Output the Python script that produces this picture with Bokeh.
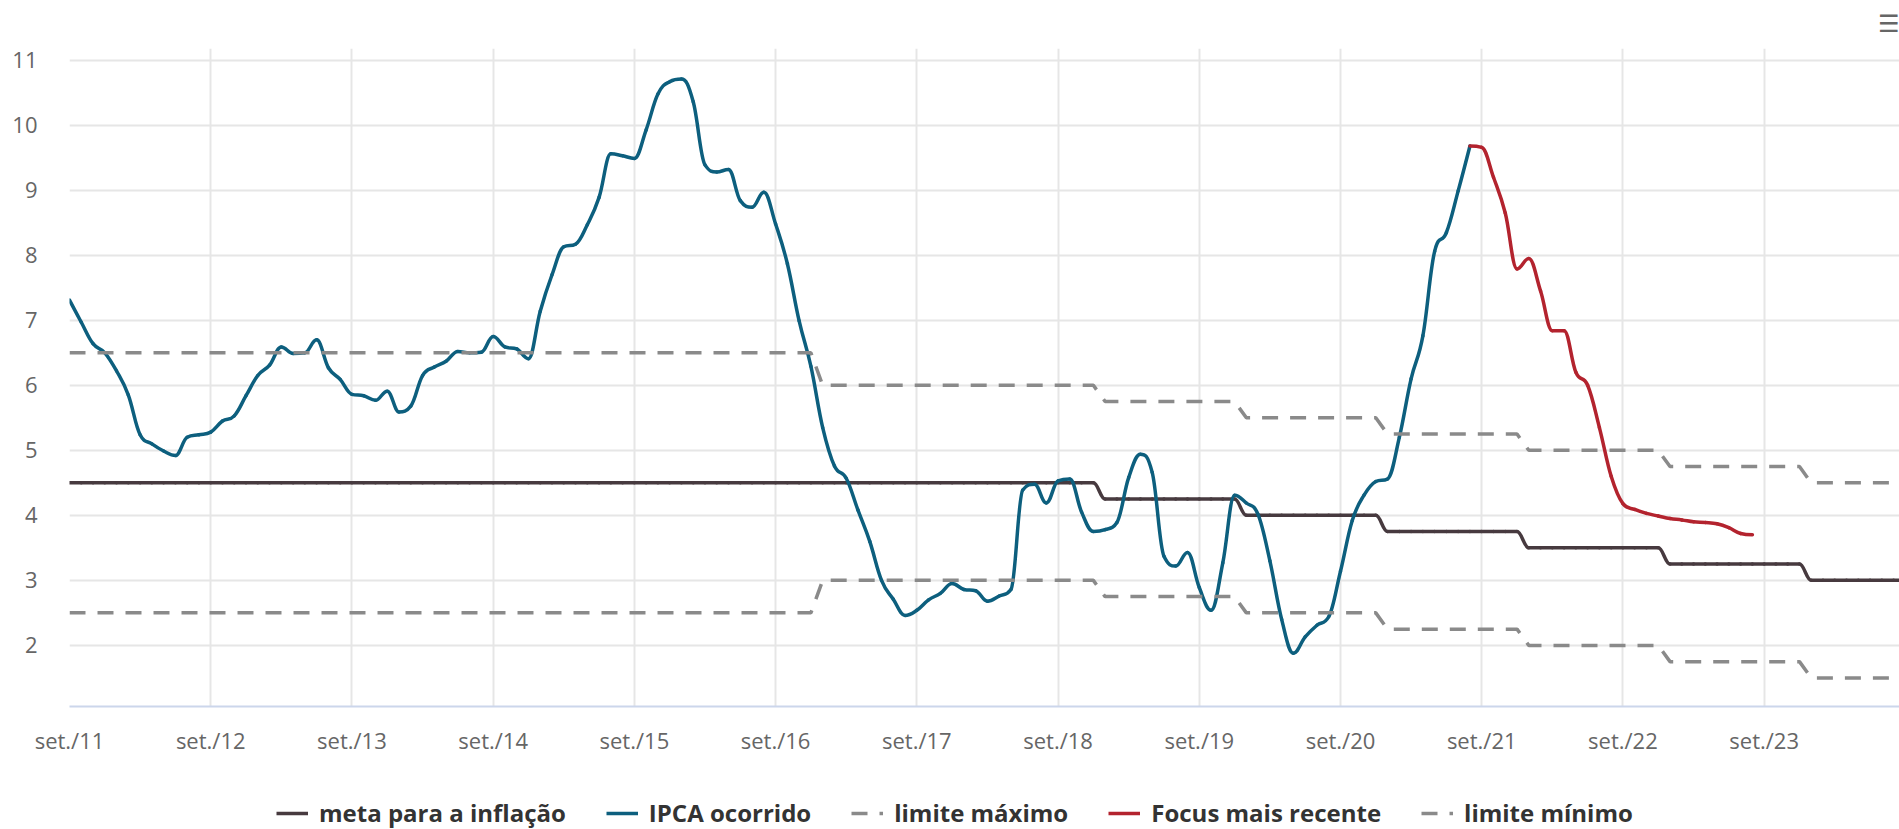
from bokeh.plotting import figure
from bokeh.layouts import column
from bokeh.models import Range1d, FixedTicker, Legend, LegendItem
from bokeh.embed import file_html
from bokeh.resources import INLINE

# ---------------- data (month index 0 = set./2011) ----------------
ipca_2011 = [7.31, 6.97, 6.64, 6.50]                                            # set-dez
ipca_2012 = [6.22, 5.85, 5.24, 5.10, 4.99, 4.92, 5.20, 5.24, 5.28, 5.45, 5.53, 5.84]
ipca_2013 = [6.15, 6.31, 6.59, 6.49, 6.50, 6.70, 6.27, 6.09, 5.86, 5.84, 5.77, 5.91]
ipca_2014 = [5.59, 5.68, 6.15, 6.28, 6.37, 6.52, 6.50, 6.51, 6.75, 6.59, 6.56, 6.41]
ipca_2015 = [7.14, 7.70, 8.13, 8.17, 8.47, 8.89, 9.56, 9.53, 9.49, 9.93, 10.48, 10.67]
ipca_2016 = [10.71, 10.36, 9.39, 9.28, 9.32, 8.84, 8.74, 8.97, 8.48, 7.87, 6.99, 6.29]
ipca_2017 = [5.35, 4.76, 4.57, 4.08, 3.60, 3.00, 2.71, 2.46, 2.54, 2.70, 2.80, 2.95]
ipca_2018 = [2.86, 2.84, 2.68, 2.76, 2.86, 4.39, 4.48, 4.19, 4.53, 4.56, 4.05, 3.75]
ipca_2019 = [3.78, 3.89, 4.58, 4.94, 4.66, 3.37, 3.22, 3.43, 2.89, 2.54, 3.27, 4.31]
ipca_2020 = [4.19, 4.01, 3.30, 2.40, 1.88, 2.13, 2.31, 2.44, 3.14, 3.92, 4.31, 4.52]
ipca_2021 = [4.56, 5.20, 6.10, 6.76, 8.06, 8.35, 8.99, 9.68]                    # jan-ago

focus_2021 = [9.68, 9.66, 9.20, 8.65, 7.79]                                     # ago-dez
focus_2022 = [7.95, 7.45, 6.84, 6.84, 6.20, 6.00, 5.35, 4.60, 4.18, 4.09, 4.03, 3.99]
focus_2023 = [3.95, 3.93, 3.90, 3.89, 3.87, 3.81, 3.72, 3.70]                   # jan-ago
focus_start_month = 119                                                         # ago/2021

target_years = [2011, 2012, 2013, 2014, 2015, 2016, 2017, 2018, 2019, 2020, 2021, 2022, 2023, 2024]
target_values = [4.5, 4.5, 4.5, 4.5, 4.5, 4.5, 4.5, 4.5, 4.25, 4.0, 3.75, 3.5, 3.25, 3.0]
tolerance_values = [2.0, 2.0, 2.0, 2.0, 2.0, 2.0, 1.5, 1.5, 1.5, 1.5, 1.5, 1.5, 1.5, 1.5]

tick_months = [0, 12, 24, 36, 48, 60, 72, 84, 96, 108, 120, 132, 144]
tick_labels = ["set./11", "set./12", "set./13", "set./14", "set./15", "set./16", "set./17",
               "set./18", "set./19", "set./20", "set./21", "set./22", "set./23"]
y_ticks = [2, 3, 4, 5, 6, 7, 8, 9, 10, 11]

names = ["meta para a inflação", "IPCA ocorrido", "limite máximo", "Focus mais recente", "limite mínimo"]

# ---------------- build series ----------------
ipca = ipca_2011 + ipca_2012 + ipca_2013 + ipca_2014 + ipca_2015 + ipca_2016 + \
    ipca_2017 + ipca_2018 + ipca_2019 + ipca_2020 + ipca_2021
ipca_x = list(range(len(ipca)))
focus = focus_2021 + focus_2022 + focus_2023
focus_x = list(range(focus_start_month, focus_start_month + len(focus)))

meta_x, meta_y, upper_y, lower_y = [], [], [], []
m = 0
for yr, tv, tol in zip(target_years, target_values, tolerance_values):
    n = 4 if yr == 2011 else 12
    for _ in range(n):
        meta_x.append(m)
        meta_y.append(tv)
        upper_y.append(tv + tol)
        lower_y.append(tv - tol)
        m += 1


def spline_segments(xs, ys, smoothing=1.5):
    """Highcharts-style spline control points for a series of points."""
    n = len(xs)
    denom = smoothing + 1
    right = [(xs[i], ys[i]) for i in range(n)]
    left = [(xs[i], ys[i]) for i in range(n)]
    for i in range(1, n - 1):
        px, py = xs[i], ys[i]
        lx, ly = xs[i - 1], ys[i - 1]
        nx, ny = xs[i + 1], ys[i + 1]
        lcx = (smoothing * px + lx) / denom
        lcy = (smoothing * py + ly) / denom
        rcx = (smoothing * px + nx) / denom
        rcy = (smoothing * py + ny) / denom
        corr = 0.0
        if rcx != lcx:
            corr = ((rcy - lcy) * (rcx - px)) / (rcx - lcx) + py - rcy
        lcy += corr
        rcy += corr
        if lcy > ly and lcy > py:
            lcy = max(ly, py); rcy = 2 * py - lcy
        elif lcy < ly and lcy < py:
            lcy = min(ly, py); rcy = 2 * py - lcy
        if rcy > ny and rcy > py:
            rcy = max(ny, py); lcy = 2 * py - rcy
        elif rcy < ny and rcy < py:
            rcy = min(ny, py); lcy = 2 * py - rcy
        left[i] = (lcx, lcy)
        right[i] = (rcx, rcy)
    d = dict(x0=[], y0=[], x1=[], y1=[], cx0=[], cy0=[], cx1=[], cy1=[])
    for i in range(1, n):
        d["x0"].append(xs[i - 1]); d["y0"].append(ys[i - 1])
        d["x1"].append(xs[i]); d["y1"].append(ys[i])
        d["cx0"].append(right[i - 1][0]); d["cy0"].append(right[i - 1][1])
        d["cx1"].append(left[i][0]); d["cy1"].append(left[i][1])
    return d


# ---------------- main chart ----------------
FONT = "Open Sans"
p = figure(width=1899, height=770, output_backend="svg", toolbar_location=None,
           x_range=Range1d(0, 155.5), y_range=Range1d(1.06, 11.18),
           min_border_left=69, min_border_right=0, min_border_top=48, min_border_bottom=64)
p.outline_line_color = None
p.background_fill_color = "white"

# export-menu icon (as title, top right)
p.title.text = "☰"
p.title.align = "right"
p.title.vertical_align = "top"
p.title.text_font = "DejaVu Sans"
p.title.text_font_size = "24px"
p.title.text_font_style = "normal"
p.title.text_color = "#666666"
p.title.standoff = 17

# axes
p.xaxis.ticker = FixedTicker(ticks=tick_months)
p.xaxis.major_label_overrides = {t: lab for t, lab in zip(tick_months, tick_labels)}
p.yaxis.ticker = FixedTicker(ticks=y_ticks)
for ax in (p.xaxis, p.yaxis):
    ax.major_tick_line_color = None
    ax.minor_tick_line_color = None
    ax.major_tick_out = 0
    ax.major_tick_in = 0
    ax.major_label_text_font = FONT
    ax.major_label_text_font_size = "22px"
    ax.major_label_text_color = "#666666"
p.yaxis.axis_line_color = None
p.yaxis.major_label_standoff = 32
p.xaxis.axis_line_color = "#ccd6eb"
p.xaxis.axis_line_width = 2
p.xaxis.major_label_standoff = 18

p.xgrid.grid_line_color = "#e6e6e6"
p.xgrid.grid_line_width = 2
p.ygrid.grid_line_color = "#e6e6e6"
p.ygrid.grid_line_width = 2

# series
c_meta, c_ipca, c_lim, c_focus = "#473a3f", "#0d5f7e", "#8a8a8a", "#b3232e"
LW = 3.5
DASH = "16 12"

p.bezier(**spline_segments(meta_x, meta_y), line_color=c_meta, line_width=LW, line_cap="round")
p.bezier(**spline_segments(ipca_x, ipca), line_color=c_ipca, line_width=LW, line_cap="round")
p.line(meta_x, upper_y, line_color=c_lim, line_width=LW, line_dash=DASH)
p.bezier(**spline_segments(focus_x, focus), line_color=c_focus, line_width=LW, line_cap="round")
p.line(meta_x, lower_y, line_color=c_lim, line_width=LW, line_dash=DASH)

# ---------------- legend strip (below the chart) ----------------
# the strip's own ranges (0..1) lie below every series value, so its copies of the
# series are fully outside its frame; they only serve as legend swatches
q = figure(width=1899, height=59, output_backend="svg", toolbar_location=None,
           x_range=Range1d(0, 1), y_range=Range1d(0, 1),
           x_axis_type=None, y_axis_type=None, min_border=0)
q.outline_line_color = None
q.xgrid.visible = False
q.ygrid.visible = False

series_xy = [(meta_x, meta_y), (ipca_x, ipca), (meta_x, upper_y), (focus_x, focus), (meta_x, lower_y)]
styles = [dict(line_color=c_meta), dict(line_color=c_ipca),
          dict(line_color=c_lim, line_dash=DASH), dict(line_color=c_focus),
          dict(line_color=c_lim, line_dash=DASH)]
items = []
for nm, (sx, sy), st in zip(names, series_xy, styles):
    r = q.line(sx, sy, line_width=LW, **st)
    items.append(LegendItem(label=nm, renderers=[r]))

legend = Legend(items=items, orientation="horizontal", location=(207, 0),
                label_text_font=FONT, label_text_font_style="bold",
                label_text_font_size="24px", label_text_color="#333333",
                glyph_width=32, glyph_height=20, label_standoff=11, spacing=40,
                padding=0, margin=0, border_line_color=None, background_fill_alpha=0)
q.add_layout(legend, "center")

page = column(p, q, spacing=0)
open("out.html", "w").write(file_html(page, INLINE))
